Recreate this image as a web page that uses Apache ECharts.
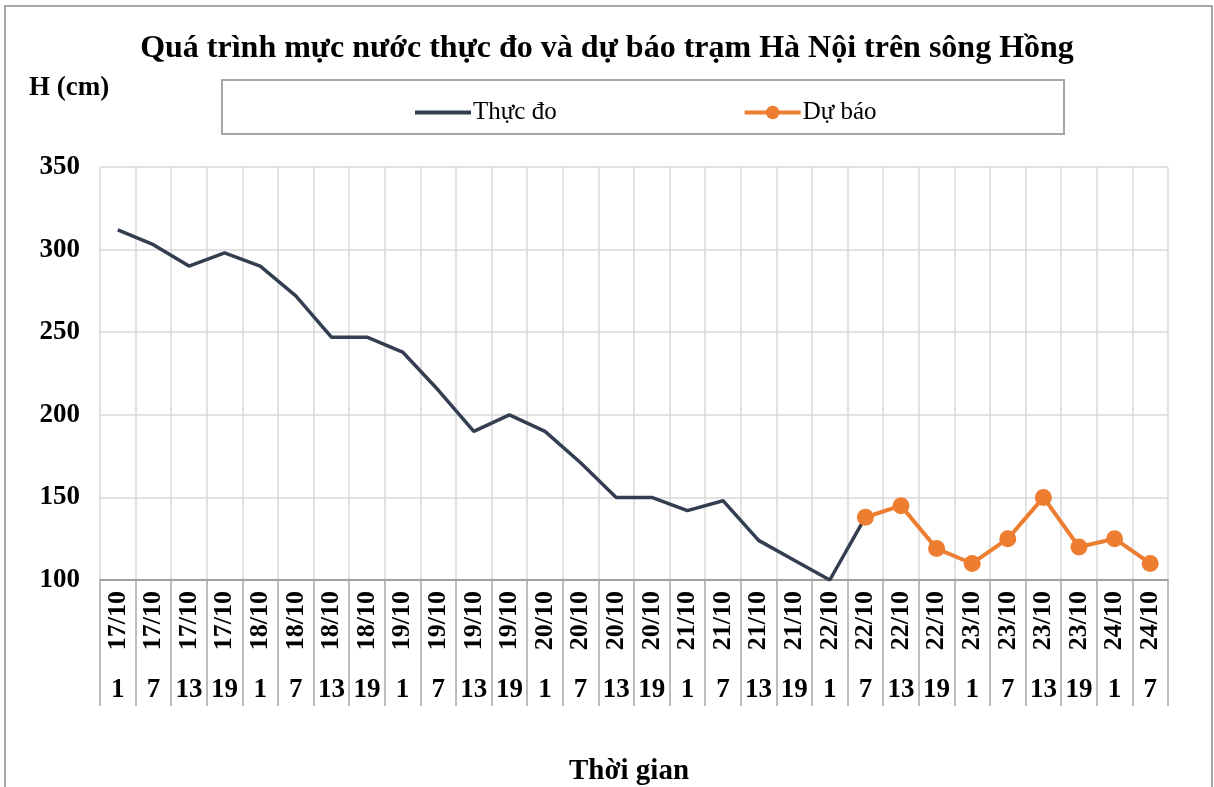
<!DOCTYPE html>
<html><head><meta charset="utf-8">
<script src="https://cdn.jsdelivr.net/npm/echarts@6/dist/echarts.min.js"></script>
<style>html,body{margin:0;padding:0;background:#fff}#c{width:1214px;height:787px}</style>
</head><body><div id="c"></div>
<script>
const dates = ['17/10','17/10','17/10','17/10','18/10','18/10','18/10','18/10','19/10','19/10','19/10','19/10','20/10','20/10','20/10','20/10','21/10','21/10','21/10','21/10','22/10','22/10','22/10','22/10','23/10','23/10','23/10','23/10','24/10','24/10'];
const hours = ['1','7','13','19','1','7','13','19','1','7','13','19','1','7','13','19','1','7','13','19','1','7','13','19','1','7','13','19','1','7'];
const observed = [312,303,290,298,290,272,247,247,238,215,190,200,190,171,150,150,142,148,124,112,100,138,null,null,null,null,null,null,null,null];
const forecast = [null,null,null,null,null,null,null,null,null,null,null,null,null,null,null,null,null,null,null,null,null,138,145,119,110,125,150,120,125,110];
const yTicks = {min:100, max:350, interval:50};
const FONT = '"Liberation Serif", "Times New Roman", serif';

const chart = echarts.init(document.getElementById('c'));
chart.setOption({
  animation:false,
  backgroundColor:'#fff',
  textStyle:{fontFamily:FONT},
  title:[
    {text:'Quá trình mực nước thực đo và dự báo trạm Hà Nội trên sông Hồng', left:'center', top:28,
     textStyle:{fontFamily:FONT, fontWeight:'bold', fontSize:32, color:'#000'}},
    {text:'H (cm)', left:24, top:70, textStyle:{fontFamily:FONT, fontWeight:'bold', fontSize:27, color:'#000'}},
    {text:'Thời gian', left:564, top:752, textStyle:{fontFamily:FONT, fontWeight:'bold', fontSize:29, color:'#000'}}
  ],
  graphic:[
    {type:'rect', shape:{x:5, y:6, width:1207, height:790}, style:{fill:null, stroke:'#8c8c8c', lineWidth:1.5}, silent:true},
    {type:'rect', shape:{x:222, y:80, width:842, height:54}, style:{fill:'#fff', stroke:'#a6a6a6', lineWidth:2}, z:-1, silent:true}
  ],
  legend:{
    left:408, top:95, itemWidth:56, itemHeight:17, itemGap:186,
    textStyle:{fontFamily:FONT, fontSize:25, color:'#000', padding:[0,0,0,-3]},
    data:[
      {name:'Thực đo', itemStyle:{opacity:0}, lineStyle:{width:4, color:'#333f50'}},
      {name:'Dự báo', lineStyle:{width:4, color:'#ed7d31'}}
    ]
  },
  grid:{left:100, right:46, top:167, bottom:207, containLabel:false},
  xAxis:[
    {type:'category', data:dates, position:'bottom', boundaryGap:true,
     axisLine:{show:true, lineStyle:{color:'#8c8c8c', width:1.5}},
     axisTick:{show:true, interval:0, length:126, lineStyle:{color:'#a6a6a6', width:1.5}},
     splitLine:{show:true, interval:0, lineStyle:{color:'#d9d9d9', width:1.5}},
     axisLabel:{interval:0, rotate:90, margin:11, fontFamily:FONT, fontWeight:'bold', fontSize:26, color:'#000'}},
    {type:'category', data:hours, position:'bottom', boundaryGap:true, offset:0,
     axisLine:{show:false}, axisTick:{show:false}, splitLine:{show:false},
     axisLabel:{interval:0, margin:97, fontFamily:FONT, fontWeight:'bold', fontSize:27, color:'#000'}}
  ],
  yAxis:{type:'value', min:yTicks.min, max:yTicks.max, interval:yTicks.interval,
    axisLine:{show:false}, axisTick:{show:false},
    splitLine:{show:true, lineStyle:{color:'#d9d9d9', width:1.5}},
    axisLabel:{margin:20, fontFamily:FONT, fontWeight:'bold', fontSize:27, color:'#000'}},
  series:[
    {name:'Thực đo', type:'line', data:observed, xAxisIndex:0, symbol:'none', connectNulls:false,
     lineStyle:{color:'#333f50', width:3.5}, itemStyle:{color:'#333f50'}, z:2},
    {name:'Dự báo', type:'line', data:forecast, xAxisIndex:0, symbol:'circle', symbolSize:17,
     lineStyle:{color:'#ed7d31', width:4}, itemStyle:{color:'#ed7d31'}, z:3}
  ]
});
</script></body></html>
